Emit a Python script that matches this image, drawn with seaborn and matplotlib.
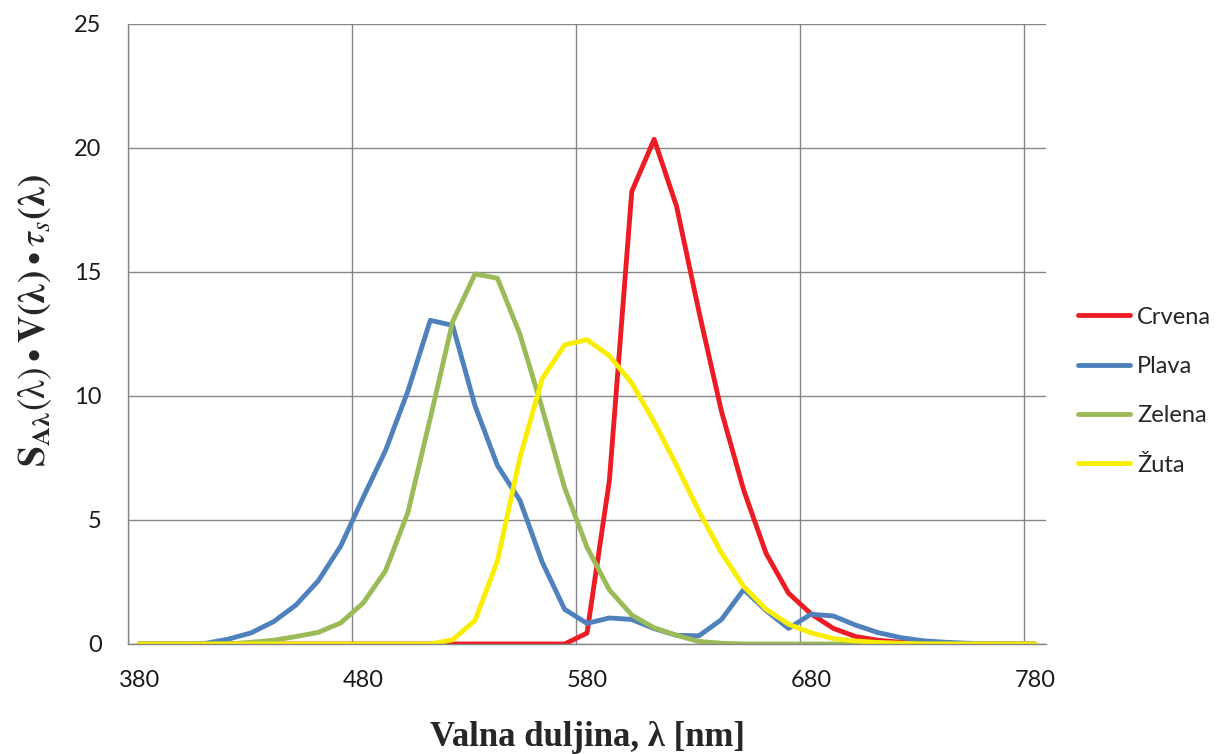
import pandas as pd
import matplotlib
matplotlib.use("Agg")
import matplotlib.pyplot as plt
import seaborn as sns

# wavelength categories (nm)
wavelengths = [380, 390, 400, 410, 420, 430, 440, 450, 460, 470,
               480, 490, 500, 510, 520, 530, 540, 550, 560, 570,
               580, 590, 600, 610, 620, 630, 640, 650, 660, 670,
               680, 690, 700, 710, 720, 730, 740, 750, 760, 770, 780]

crvena = [0, 0, 0, 0, 0, 0, 0, 0, 0, 0,
          0, 0, 0, 0, 0, 0, 0, 0, 0, 0,
          0.44, 6.6, 18.25, 20.35, 17.65, 13.4, 9.4, 6.2, 3.65, 2.05,
          1.22, 0.63, 0.3, 0.15, 0.07, 0.03, 0, 0, 0, 0, 0]

plava = [0, 0, 0, 0.03, 0.2, 0.45, 0.9, 1.57, 2.55, 3.95,
         5.9, 7.8, 10.2, 13.05, 12.85, 9.6, 7.2, 5.8, 3.3, 1.4,
         0.83, 1.05, 0.99, 0.62, 0.35, 0.33, 0.98, 2.2, 1.35, 0.63,
         1.2, 1.13, 0.76, 0.46, 0.26, 0.13, 0.07, 0.03, 0.01, 0, 0]

zelena = [0, 0, 0, 0, 0, 0.07, 0.15, 0.3, 0.47, 0.85,
          1.65, 2.95, 5.3, 9.1, 13.0, 14.92, 14.75, 12.5, 9.5, 6.3,
          3.9, 2.18, 1.17, 0.65, 0.35, 0.1, 0.03, 0, 0, 0,
          0, 0, 0, 0, 0, 0, 0, 0, 0, 0, 0]

zuta = [0, 0, 0, 0, 0, 0, 0, 0, 0, 0,
        0, 0, 0, 0, 0.17, 0.95, 3.35, 7.5, 10.7, 12.06,
        12.27, 11.62, 10.52, 8.95, 7.2, 5.35, 3.68, 2.32, 1.4, 0.8,
        0.45, 0.22, 0.12, 0.06, 0.03, 0, 0, 0, 0, 0, 0]

serije = ["Crvena", "Plava", "Zelena", "Žuta"]
boje = ["#ED1C24", "#4F81BD", "#9BBB59", "#FAEE00"]

x_ticks = [380, 480, 580, 680, 780]
y_ticks = [0, 5, 10, 15, 20, 25]

df = pd.DataFrame({"lambda": wavelengths, "Crvena": crvena, "Plava": plava,
                   "Zelena": zelena, "Žuta": zuta})
dugi = df.melt(id_vars="lambda", var_name="serija", value_name="vrijednost")

sns.set_style("white")
plt.rcParams["font.family"] = ["Lato", "DejaVu Sans"]
plt.rcParams["mathtext.fontset"] = "stix"

fig = plt.figure(figsize=(12.16, 7.54), dpi=100)
ax = fig.add_axes([128 / 1216, 1 - 644 / 754, 918 / 1216, 620 / 754])

sns.lineplot(data=dugi, x="lambda", y="vrijednost", hue="serija",
             hue_order=serije, palette=boje, linewidth=3.5, ax=ax,
             legend=False, solid_capstyle="round")

# category-style axis: gridlines between categories, labels on them
ax.set_xlim(375, 785)
ax.set_ylim(0, 25)
ax.set_xticks([375, 475, 575, 675, 775])
ax.set_xticklabels([])
ax.set_xticks(x_ticks, minor=True)
ax.set_xticklabels([str(v) for v in x_ticks], minor=True)
ax.set_yticks(y_ticks)
ax.set_yticklabels([str(v) for v in y_ticks])

siva = "#868686"
ax.grid(True, which="major", color=siva, linewidth=1)
ax.tick_params(axis="x", which="major", direction="out", length=7,
               color=siva, width=1)
ax.tick_params(axis="x", which="minor", length=0, pad=19,
               labelsize=17, labelcolor="#1a1a1a")
ax.tick_params(axis="y", direction="out", length=7, color=siva, width=1,
               pad=12, labelsize=17, labelcolor="#1a1a1a")
for s in ["top", "right"]:
    ax.spines[s].set_visible(False)
for s in ["left", "bottom"]:
    ax.spines[s].set_color(siva)
    ax.spines[s].set_linewidth(1)
ax.set_xlabel("")
ax.set_ylabel("")

rucke = [plt.Line2D([], [], color=c, linewidth=3.5, solid_capstyle="round")
         for c in boje]
fig.legend(rucke, serije, loc="center left",
           bbox_to_anchor=(1078 / 1216, 1 - 391 / 754), frameon=False,
           fontsize=17, handlelength=2.2, handletextpad=0.3,
           labelspacing=1.2, borderpad=0, borderaxespad=0)

fig.text(587 / 1216, 1 - 738 / 754, "Valna duljina, λ [nm]",
         family="Liberation Serif", fontweight="bold", fontsize=25,
         ha="center", va="center")
fig.text(35 / 1216, 1 - 320 / 754,
         r"$\mathbf{S}_{\mathbf{A\lambda}}\left(\mathrm{\lambda}\right)\bullet"
         r"\mathbf{V(\lambda)}\bullet\tau_s\mathbf{(\lambda)}$",
         fontsize=27, rotation=90, ha="center", va="center")

fig.savefig("out.png", dpi=100)
